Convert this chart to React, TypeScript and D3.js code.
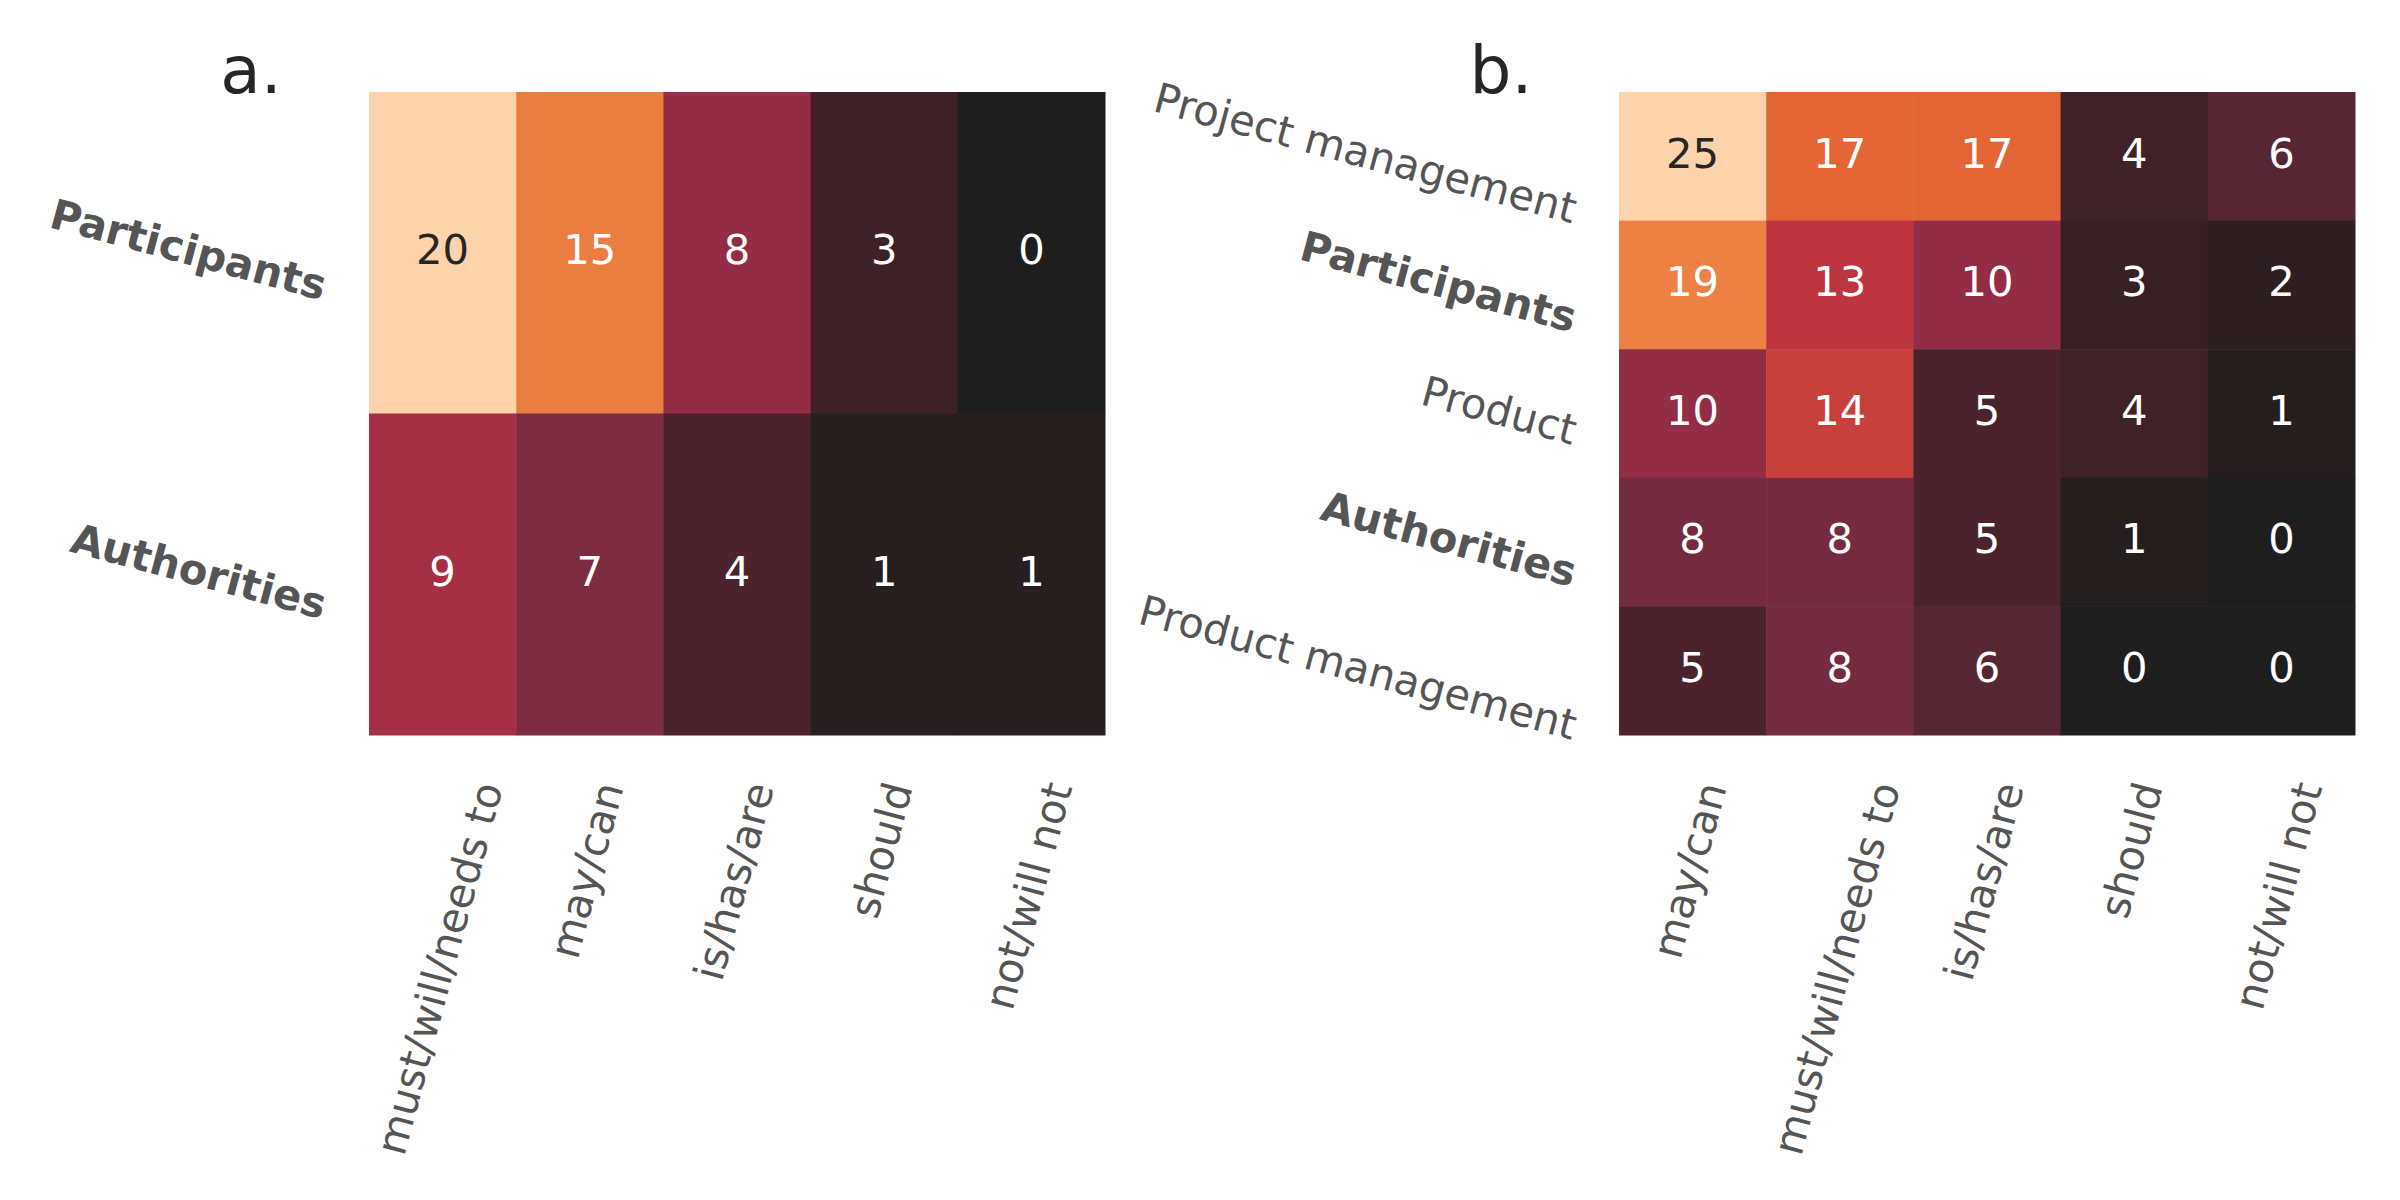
import React, { useEffect, useRef } from 'react';
import * as d3 from 'd3';

// panel a
const panelAColumns = ['must/will/needs to', 'may/can', 'is/has/are', 'should', 'not/will not'];
const panelARows = ['Participants', 'Authorities'];
const panelAValues = [
  [20, 15, 8, 3, 0],
  [9, 7, 4, 1, 1],
];

// panel b
const panelBColumns = ['may/can', 'must/will/needs to', 'is/has/are', 'should', 'not/will not'];
const panelBRows = ['Project management', 'Participants', 'Product', 'Authorities', 'Product management'];
const panelBValues = [
  [25, 17, 17, 4, 6],
  [19, 13, 10, 3, 2],
  [10, 14, 5, 4, 1],
  [8, 8, 5, 1, 0],
  [5, 8, 6, 0, 0],
];

const boldRows = ['Participants', 'Authorities'];

// colormap (fraction of max -> colour)
const cmapStops = [0, 0.04, 0.08, 0.12, 0.16, 0.2, 0.24, 0.32, 0.35, 0.4, 0.45, 0.52, 0.56, 0.68, 0.755, 1];
const cmapColors = ['#1e1e1e', '#251e1f', '#2e1e21', '#372024', '#3f2128', '#4a232d', '#572634', '#742a3f',
  '#7d2b40', '#932c45', '#a52f45', '#bd353f', '#c8403b', '#e36535', '#ed7f42', '#fed3ab'];

const W = 2400;
const H = 1200;
const FONT = '"DejaVu Sans", sans-serif';
const FS = 41.7;
const PAD_X = 43;
const PAD_Y = 38;
const DY = '0.27em';

function luminance(c: string) {
  const rgb = d3.rgb(c);
  const f = (v: number) => {
    const s = v / 255;
    return s <= 0.03928 ? s / 12.92 : Math.pow((s + 0.055) / 1.055, 2.4);
  };
  return 0.2126 * f(rgb.r) + 0.7152 * f(rgb.g) + 0.0722 * f(rgb.b);
}

function drawPanel(
  svg: d3.Selection<SVGSVGElement, unknown, null, undefined>,
  opts: { left: number; top: number; width: number; height: number; title: string;
    rows: string[]; cols: string[]; values: number[][] }
) {
  const { left, top, width, height, title, rows, cols, values } = opts;
  const g = svg.append('g');

  const x = d3.scaleBand<string>().domain(cols).range([left, left + width]);
  const y = d3.scaleBand<string>().domain(rows).range([top, top + height]);
  const vmax = d3.max(values.flat()) || 1;
  const color = d3.scaleLinear<string>()
    .domain(cmapStops.map(s => s * vmax))
    .range(cmapColors)
    .interpolate(d3.interpolateRgb)
    .clamp(true);

  const cells = values.flatMap((row, i) => row.map((v, j) => ({ r: rows[i], c: cols[j], v })));

  g.selectAll('rect.cell')
    .data(cells)
    .join('rect')
    .attr('class', 'cell')
    .attr('x', d => x(d.c)!)
    .attr('y', d => y(d.r)!)
    .attr('width', x.bandwidth() + 0.5)
    .attr('height', y.bandwidth() + 0.5)
    .attr('fill', d => color(d.v));

  g.selectAll('text.annot')
    .data(cells)
    .join('text')
    .attr('class', 'annot')
    .attr('x', d => x(d.c)! + x.bandwidth() / 2)
    .attr('y', d => y(d.r)! + y.bandwidth() / 2)
    .attr('dy', DY)
    .attr('text-anchor', 'middle')
    .attr('font-family', FONT)
    .attr('font-size', FS)
    .attr('fill', d => (luminance(color(d.v)) > 0.408 ? '#262626' : '#ffffff'))
    .text(d => d.v);

  const lineH = FS * 1.16;

  // y tick labels, rotated clockwise 15deg, right aligned, centred on row
  const yRot = 15;
  rows.forEach(r => {
    const t = g.append('text')
      .attr('text-anchor', 'middle')
      .attr('dy', DY)
      .attr('font-family', FONT)
      .attr('font-size', FS)
      .attr('font-weight', boldRows.includes(r) ? 'bold' : 'normal')
      .attr('fill', '#555555')
      .text(r);
    const w = (t.node() as SVGTextElement).getComputedTextLength();
    const rad = (yRot * Math.PI) / 180;
    const bw = w * Math.cos(rad) + lineH * Math.sin(rad);
    const cx = left - PAD_Y - bw / 2;
    const cy = y(r)! + y.bandwidth() / 2;
    t.attr('transform', `translate(${cx},${cy}) rotate(${yRot})`);
  });

  // x tick labels, rotated 75deg counter-clockwise, centred on column, top aligned
  const xRot = 75;
  cols.forEach(c => {
    const t = g.append('text')
      .attr('text-anchor', 'middle')
      .attr('dy', DY)
      .attr('font-family', FONT)
      .attr('font-size', FS)
      .attr('fill', '#555555')
      .text(c);
    const w = (t.node() as SVGTextElement).getComputedTextLength();
    const rad = (xRot * Math.PI) / 180;
    const bh = w * Math.sin(rad) + lineH * Math.cos(rad);
    const cx = x(c)! + x.bandwidth() / 2;
    const cy = top + height + PAD_X + bh / 2;
    t.attr('transform', `translate(${cx},${cy}) rotate(${-xRot})`);
  });

  // panel letter
  g.append('text')
    .attr('x', left - 118)
    .attr('y', 93)
    .attr('text-anchor', 'middle')
    .attr('font-family', FONT)
    .attr('font-size', 66)
    .attr('fill', '#262626')
    .text(title);
}

const App: React.FC = () => {
  const svgRef = useRef<SVGSVGElement>(null);

  useEffect(() => {
    const svg = d3.select(svgRef.current!);
    svg.selectAll('*').remove();

    svg.append('rect').attr('width', W).attr('height', H).attr('fill', '#ffffff');

    drawPanel(svg, {
      left: 369, top: 92, width: 736, height: 643, title: 'a.',
      rows: panelARows, cols: panelAColumns, values: panelAValues,
    });
    drawPanel(svg, {
      left: 1619, top: 92, width: 736, height: 643, title: 'b.',
      rows: panelBRows, cols: panelBColumns, values: panelBValues,
    });
  }, []);

  return (
    <svg
      ref={svgRef}
      width={W}
      height={H}
      style={{ position: 'absolute', left: 0, top: 0, display: 'block' }}
    />
  );
};

export default App;
